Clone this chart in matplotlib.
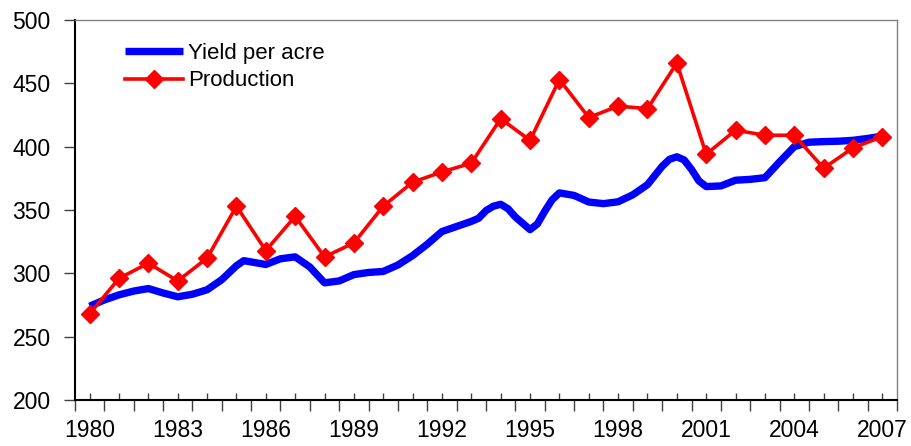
import matplotlib
matplotlib.use("Agg")
from matplotlib import pyplot as plt
import numpy as np

plt.rcParams['font.family'] = ['Liberation Sans', 'DejaVu Sans']

# Production, one value per year
prod_years = list(range(1980, 2008))
production = [268, 296, 308, 294, 312, 353, 318, 345, 313, 324,
              353, 372, 380, 387, 422, 405, 453, 423, 432, 430,
              466, 394, 413, 409, 409, 383, 399, 408]

# Yield per acre, read at finer steps
yield_years = [1980.0, 1980.5, 1981.0, 1981.5, 1982.0, 1982.5, 1983.0, 1983.5,
               1984.0, 1984.5, 1985.0, 1985.25, 1985.5, 1986.0, 1986.5, 1987.0,
               1987.5, 1988.0, 1988.5, 1989.0, 1989.5, 1990.0, 1990.5, 1991.0,
               1991.5, 1992.0, 1992.5, 1993.0, 1993.25, 1993.5, 1993.75, 1994.0,
               1994.25, 1994.5, 1995.0, 1995.25, 1995.5, 1995.75, 1996.0, 1996.5,
               1997.0, 1997.5, 1998.0, 1998.5, 1999.0, 1999.5, 1999.75, 2000.0,
               2000.25, 2000.5, 2000.75, 2001.0, 2001.5, 2002.0, 2002.5, 2003.0,
               2003.5, 2004.0, 2004.5, 2005.0, 2005.5, 2006.0, 2006.5, 2007.0]
yield_vals = [274, 279, 283, 286, 288, 284.5, 281.5, 283.5,
              287, 295, 306, 310, 309, 307, 311.5, 313,
              305, 292.5, 294, 299, 300.7, 301.5, 306.6, 314,
              323, 333, 337, 341, 343.5, 349.5, 353, 354.5,
              351, 344.5, 334.5, 339, 349, 358, 363.5, 361.5,
              356.3, 355, 356.5, 362, 370, 384.5, 390, 392,
              389.5, 382, 373, 368.5, 369, 373.5, 374.2, 375.5,
              388, 400, 403.5, 404, 404.3, 405, 406.5, 408.3]

fig = plt.figure(figsize=(9.12, 4.46), dpi=100)
ax = fig.add_axes([0.0822, 0.1031, 0.9014, 0.8521])

ax.plot(yield_years, yield_vals, color='#0000FF', lw=5.3,
        solid_joinstyle='round', solid_capstyle='butt', label='Yield per acre')
ax.plot(prod_years, production, color='#FF0000', lw=2.6, marker='D',
        markersize=9, label='Production')

ax.set_xlim(1979.5, 2007.5)
ax.set_ylim(200, 500)
ax.set_yticks(np.arange(200, 501, 50))

# labelled ticks at every year (inside), boundaries between years (outside)
ax.set_xticks(prod_years)
ax.set_xticklabels([str(y) if (y - 1980) % 3 == 0 else '' for y in prod_years])
ax.set_xticks(np.arange(1979.5, 2008, 1), minor=True)
ax.tick_params(axis='x', which='major', direction='in', length=5, width=1,
               color='#404040', labelsize=16.5, pad=14)
ax.tick_params(axis='x', which='minor', direction='out', length=8, width=1,
               color='#404040')
ax.tick_params(axis='y', direction='out', length=8, width=1, color='#404040',
               labelsize=16.5, pad=9.5)

for side in ['left', 'bottom']:
    ax.spines[side].set_color('black')
    ax.spines[side].set_linewidth(1.5)
for side in ['top', 'right']:
    ax.spines[side].set_color('#808080')
    ax.spines[side].set_linewidth(1)

ax.legend(loc='upper left', bbox_to_anchor=(0.061, 0.94), frameon=False,
          fontsize=16, handlelength=2.6, handletextpad=0.25,
          labelspacing=0.3, borderpad=0, borderaxespad=0)

fig.savefig('out.png', dpi=100)
